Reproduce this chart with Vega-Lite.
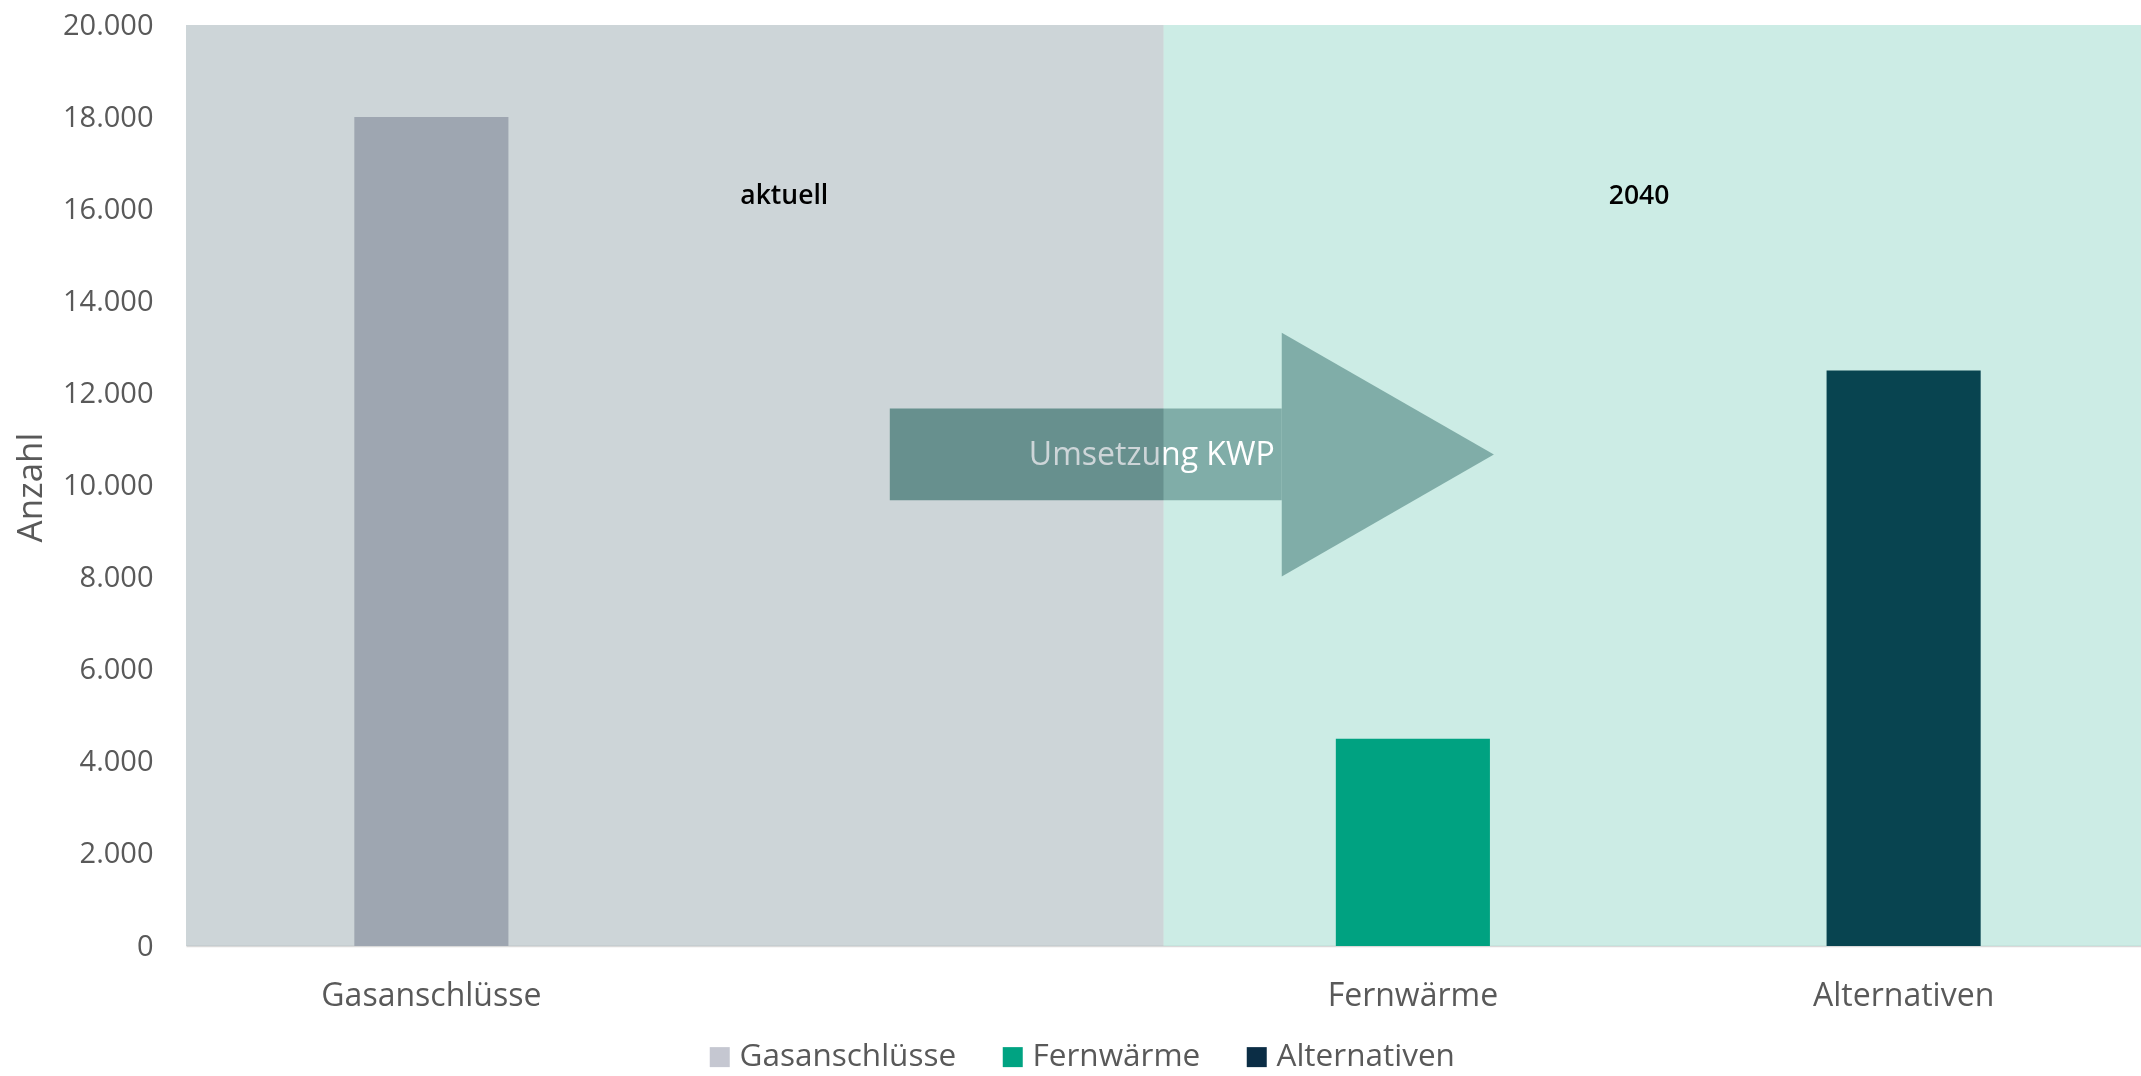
{
  "$schema": "https://vega.github.io/schema/vega-lite/v6.json",
  "autosize": "none",
  "padding": {"left": 186, "top": 25, "right": 0, "bottom": 130},
  "width": 1955,
  "height": 921,
  "background": "white",
  "config": {
    "view": {"stroke": null},
    "font": "Open Sans",
    "locale": {"number": {"decimal": ",", "thousands": ".", "grouping": [3], "currency": ["", " €"]}},
    "axis": {"labelFont": "Open Sans", "titleFont": "Open Sans", "grid": false, "ticks": false},
    "legend": {"labelFont": "Open Sans", "padding": 0}
  },
  "resolve": {"scale": {"x": "independent"}},
  "layer": [
    {
      "data": {"values": [
        {"Kategorie": "Gasanschlüsse", "Anzahl": 18000},
        {"Kategorie": "Fernwärme", "Anzahl": 4500},
        {"Kategorie": "Alternativen", "Anzahl": 12500}
      ]},
      "mark": {"type": "bar", "width": {"band": 0.314}},
      "encoding": {
        "x": {"field": "Kategorie", "type": "nominal", "sort": null,
          "scale": {"domain": ["Gasanschlüsse", " ", "Fernwärme", "Alternativen"], "paddingInner": 0, "paddingOuter": 0, "range": [0, 1963]},
          "axis": {"title": null, "labelAngle": 0, "labelFontSize": 32, "labelLimit": 0, "labelColor": "#595959", "labelPadding": 34, "domain": true, "domainColor": "#D9D9D9", "domainWidth": 1.5}},
        "y": {"field": "Anzahl", "type": "quantitative",
          "scale": {"domain": [0, 20000], "nice": false},
          "axis": {"title": "Anzahl", "values": [0, 2000, 4000, 6000, 8000, 10000, 12000, 14000, 16000, 18000, 20000], "format": ",.0f", "labelFontSize": 29, "labelColor": "#595959", "labelPadding": 33, "domain": false,
            "titleFontSize": 35, "titleFontWeight": "normal", "titleColor": "#595959", "titleX": -156, "titleY": 462, "titleAngle": -90, "titleAlign": "center", "titleBaseline": "middle"}},
        "color": {"field": "Kategorie", "type": "nominal",
          "scale": {"domain": ["Gasanschlüsse", "Fernwärme", "Alternativen"], "range": ["#C5C7D1", "#00A382", "#0B2D45"]},
          "legend": {"title": null, "orient": "none", "direction": "horizontal", "legendX": 518, "legendY": 1016, "symbolType": "square", "symbolSize": 400, "symbolStrokeWidth": 0, "labelFontSize": 31.5, "labelLimit": 0, "labelColor": "#595959", "labelOffset": 4, "columnPadding": 40}}
      }
    },
    {
      "data": {"values": [{"Bereich": "2040", "von": 2, "bis": 4, "unten": 0, "oben": 20000}]},
      "mark": {"type": "rect", "color": "#00A07D", "opacity": 0.2},
      "encoding": {
        "x": {"field": "von", "type": "quantitative", "scale": {"domain": [0, 4], "nice": false, "zero": false}, "axis": null},
        "x2": {"field": "bis"},
        "y": {"field": "unten", "type": "quantitative", "title": "Anzahl"},
        "y2": {"field": "oben"}
      }
    },
    {
      "data": {"values": [{"von": 1.44, "bis": 2.242, "unten": 9680, "oben": 11670}]},
      "mark": {"type": "rect", "color": "#80ADA8"},
      "encoding": {
        "x": {"field": "von", "type": "quantitative", "scale": {"domain": [0, 4], "nice": false, "zero": false}, "axis": null},
        "x2": {"field": "bis"},
        "y": {"field": "unten", "type": "quantitative", "title": "Anzahl"},
        "y2": {"field": "oben"}
      }
    },
    {
      "data": {"values": [
        {"x": 2.242, "unten": 8026, "oben": 13318},
        {"x": 2.676, "unten": 10672, "oben": 10672}
      ]},
      "mark": {"type": "area", "color": "#80ADA8", "opacity": 1},
      "encoding": {
        "x": {"field": "x", "type": "quantitative", "scale": {"domain": [0, 4], "nice": false, "zero": false}, "axis": null},
        "y": {"field": "unten", "type": "quantitative", "title": "Anzahl"},
        "y2": {"field": "oben"}
      }
    },
    {
      "data": {"values": [{"x": 1.976, "y": 10672, "Text": "Umsetzung KWP"}]},
      "mark": {"type": "text", "color": "white", "fontSize": 32, "font": "Open Sans", "align": "center", "baseline": "middle"},
      "encoding": {
        "x": {"field": "x", "type": "quantitative", "scale": {"domain": [0, 4], "nice": false, "zero": false}, "axis": null},
        "y": {"field": "y", "type": "quantitative", "title": "Anzahl"},
        "text": {"field": "Text"}
      }
    },
    {
      "data": {"values": [{"Bereich": "aktuell", "von": 0, "bis": 2, "unten": 0, "oben": 20000}]},
      "mark": {"type": "rect", "color": "#CDD5D8", "blend": "multiply"},
      "encoding": {
        "x": {"field": "von", "type": "quantitative", "scale": {"domain": [0, 4], "nice": false, "zero": false}, "axis": null},
        "x2": {"field": "bis"},
        "y": {"field": "unten", "type": "quantitative", "title": "Anzahl"},
        "y2": {"field": "oben"}
      }
    },
    {
      "data": {"values": [
        {"x": 1.224, "y": 16290, "Text": "aktuell"},
        {"x": 2.973, "y": 16290, "Text": "2040"}
      ]},
      "mark": {"type": "text", "color": "black", "fontSize": 26.5, "fontWeight": 600, "font": "Open Sans", "align": "center", "baseline": "middle"},
      "encoding": {
        "x": {"field": "x", "type": "quantitative", "scale": {"domain": [0, 4], "nice": false, "zero": false}, "axis": null},
        "y": {"field": "y", "type": "quantitative", "title": "Anzahl"},
        "text": {"field": "Text"}
      }
    }
  ]
}
